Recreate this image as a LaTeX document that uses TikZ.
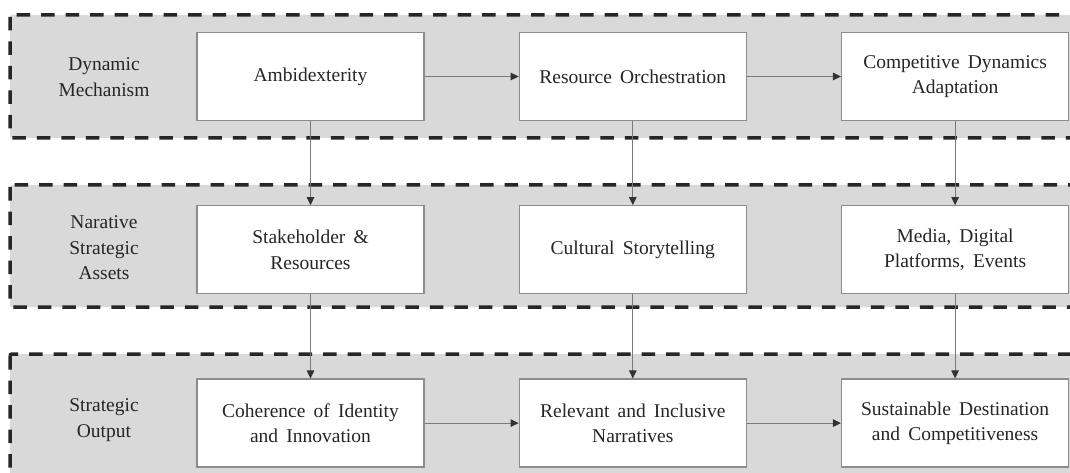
\documentclass[tikz,border=0pt]{standalone}
\usepackage{fontspec}
\setmainfont{Liberation Serif}
\usetikzlibrary{positioning, arrows.meta}

\definecolor{bandgray}{HTML}{D9D9D9}
\definecolor{boxgray}{HTML}{8C8C8C}
\definecolor{linegray}{HTML}{7A7A7A}
\definecolor{tipgray}{HTML}{333333}
\definecolor{inkgray}{HTML}{262626}

% wide word gaps, as in the boxes' text
\newcommand{\boxfont}{\fontsize{19.5}{25.5}\selectfont\spaceskip=0.42em plus 0.1em}

\tikzset{
	band/.style={fill=bandgray, draw=black!85, line width=3.5pt,
		dash pattern=on 13.5pt off 11pt, rounded corners=2pt},
	stage/.style={draw=boxgray, fill=white, line width=1.3pt, text=inkgray,
		minimum width=227pt, minimum height=88pt, inner sep=0pt, align=center,
		font=\boxfont},
	tag/.style={align=center, text=inkgray, font=\boxfont},
	link/.style={draw=linegray, line width=1pt,
		-{Triangle[length=8pt, width=7.5pt, color=tipgray]}}
}

\begin{document}
\begin{tikzpicture}[x=1pt, y=-1pt]
	\clip (0,0) rectangle (1070,473);
	\fill[white] (0,0) rectangle (1070,473);

	% three layers, open to the right and at the foot
	\draw[band] (10,15) rectangle (1100,138);
	\draw[band] (10,185) rectangle (1100,307);
	\draw[band] (10,354) rectangle (1100,520);

	% layer names
	\node[tag] (dyn) at (104,77) {Dynamic\\Mechanism};
	\node[tag] (nar) at (104,248) {Narative\\Strategic\\Assets};
	\node[tag] (out) at (104,420) {Strategic\\Output};

	% top row
	\node[stage] (amb) at (310.5,76.5) {Ambidexterity};
	\node[stage, right=94pt of amb] (orch) {Resource Orchestration};
	\node[stage, right=94pt of orch] (comp) {Competitive Dynamics\\Adaptation};

	% middle row
	\node[stage, below=84pt of amb] (stake) {Stakeholder \&\\Resources};
	\node[stage, below=84pt of orch] (story) {Cultural Storytelling};
	\node[stage, below=84pt of comp] (media) {Media, Digital\\Platforms, Events};

	% bottom row
	\node[stage, below=84pt of stake] (coh) {Coherence of Identity\\and Innovation};
	\node[stage, below=84pt of story] (rel) {Relevant and Inclusive\\Narratives};
	\node[stage, below=84pt of media] (sus) {Sustainable Destination\\and Competitiveness};

	\draw[link] (amb) -- (orch);
	\draw[link] (orch) -- (comp);
	\draw[link] (coh) -- (rel);
	\draw[link] (rel) -- (sus);

	\draw[link] (amb) -- (stake);
	\draw[link] (orch) -- (story);
	\draw[link] (comp) -- (media);
	\draw[link] (stake) -- (coh);
	\draw[link] (story) -- (rel);
	\draw[link] (media) -- (sus);
\end{tikzpicture}
\end{document}
